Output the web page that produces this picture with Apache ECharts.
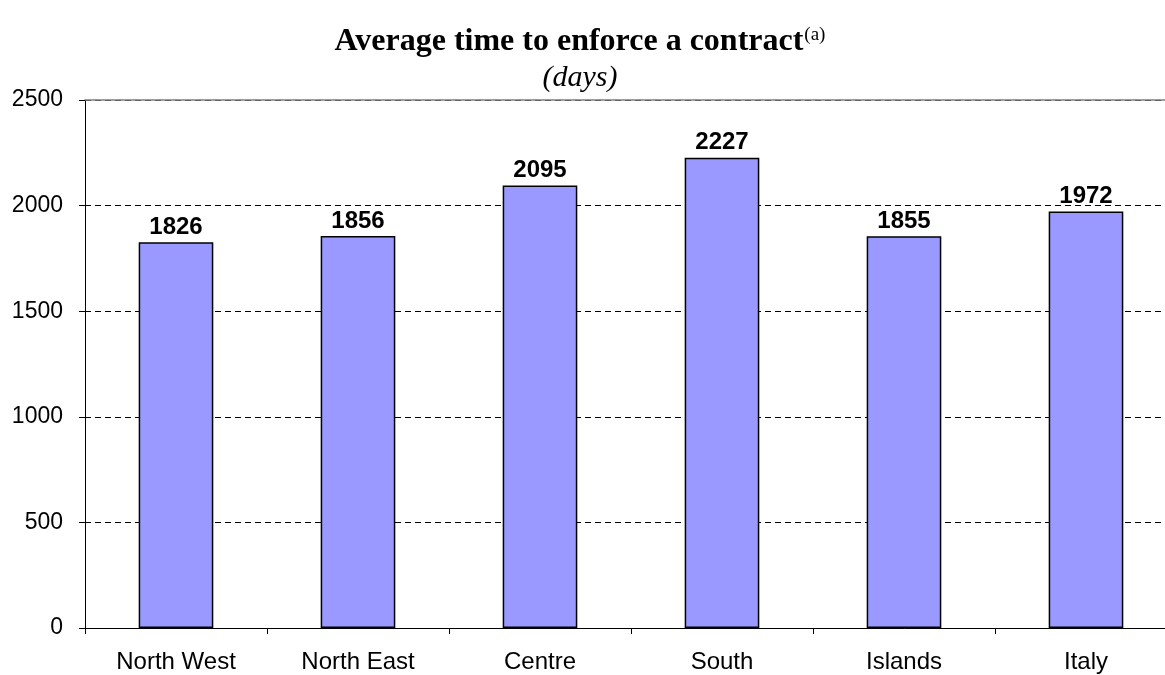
<!DOCTYPE html>
<html>
<head>
<meta charset="utf-8">
<title>Average time to enforce a contract</title>
<script src="https://cdn.jsdelivr.net/npm/echarts@6/dist/echarts.min.js"></script>
<style>
  html, body { margin: 0; padding: 0; background: #fff; overflow: hidden; }
  /* the plot area runs slightly past the right edge of the page */
  #chart { width: 1177px; height: 675px; }
</style>
</head>
<body>
<div id="chart"></div>
<script>
// Regions and average days needed to enforce a contract
const regions = ['North West', 'North East', 'Centre', 'South', 'Islands', 'Italy'];
const days = [1826, 1856, 2095, 2227, 1855, 1972];
const yTicks = { min: 0, max: 2500, interval: 500 };

const chart = echarts.init(document.getElementById('chart'));

chart.setOption({
  animation: false,
  backgroundColor: '#ffffff',
  title: [
    {
      text: '{main|Average time to enforce a contract}{sup|(a)}',
      left: 575,
      textAlign: 'center',
      top: 21,
      textStyle: {
        rich: {
          main: { fontFamily: 'Liberation Serif', fontWeight: 'bold', fontSize: 32, color: '#000' },
          sup: { fontFamily: 'Liberation Serif', fontWeight: 'normal', fontSize: 19, color: '#000', verticalAlign: 'top', padding: [0, 0, 12, 1] }
        }
      }
    },
    {
      text: '(days)',
      left: 575,
      textAlign: 'center',
      top: 58,
      textStyle: { fontFamily: 'Liberation Serif', fontStyle: 'italic', fontWeight: 'normal', fontSize: 30, color: '#000' }
    }
  ],
  grid: { left: 85, right: 0, top: 100, bottom: 47, containLabel: false },
  xAxis: [
    {
      type: 'category',
      data: regions,
      axisLine: { show: true, lineStyle: { color: '#000', width: 1 } },
      axisTick: { show: true, alignWithLabel: false, length: 6, lineStyle: { color: '#000' } },
      axisLabel: { margin: 22, fontFamily: 'Liberation Sans', fontSize: 24, color: '#000' }
    },
    {
      // plot-area top border
      type: 'category',
      position: 'top',
      data: regions,
      axisLine: { show: true, lineStyle: { color: '#808080', width: 1.5 } },
      axisTick: { show: false },
      axisLabel: { show: false }
    }
  ],
  yAxis: {
    type: 'value',
    min: yTicks.min,
    max: yTicks.max,
    interval: yTicks.interval,
    axisLine: { show: true, lineStyle: { color: '#000', width: 1 } },
    axisTick: { show: true, length: 6, lineStyle: { color: '#000' } },
    axisLabel: {
      margin: 22,
      fontFamily: 'Liberation Sans',
      fontSize: 23,
      color: '#000',
      formatter: v => String(v)
    },
    splitLine: { show: true, lineStyle: { color: '#000', type: [6, 4], width: 1 } }
  },
  series: [
    {
      type: 'bar',
      data: days,
      barWidth: '41%',
      itemStyle: { color: '#9999FF', borderColor: '#000', borderWidth: 1.5 },
      label: {
        show: true,
        position: 'top',
        distance: 3,
        fontFamily: 'Liberation Sans',
        fontWeight: 'bold',
        fontSize: 24,
        color: '#000',
        formatter: p => String(p.value)
      }
    }
  ]
});
</script>
</body>
</html>
